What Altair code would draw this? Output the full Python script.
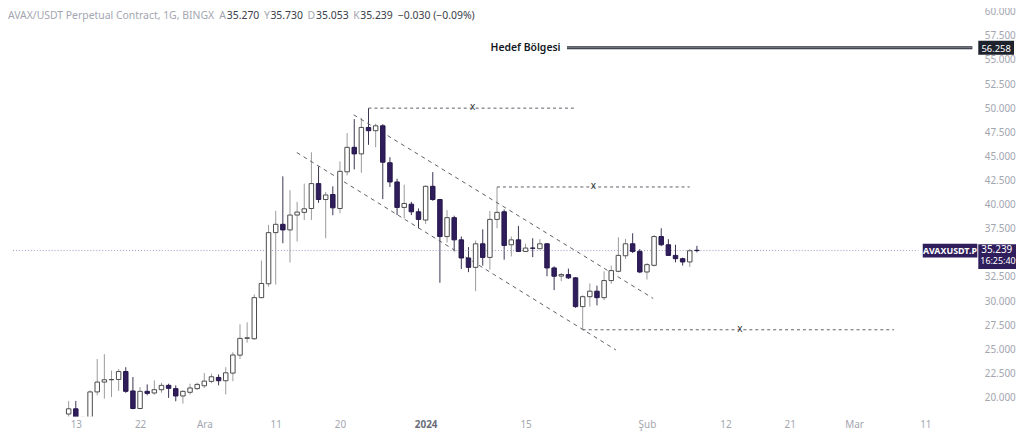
import altair as alt
import pandas as pd

# ---------------- data ----------------
dates = pd.date_range("2023-11-12", "2024-02-08", freq="D").strftime("%Y-%m-%d").tolist()

opens = [18.30, 18.84, 17.95, 17.30, 20.59, 21.61, 21.85, 21.88, 22.70, 20.69,
         18.87, 20.65, 20.48, 20.82, 21.27, 20.93, 20.17, 20.55, 20.93, 21.23,
         21.68, 22.09, 21.75, 22.54, 24.40, 26.14, 26.10, 30.36, 31.80, 37.10,
         37.96, 37.38, 38.92, 39.20, 39.60, 42.18, 40.53, 41.05, 39.60, 43.40,
         45.94, 45.26, 48.00, 47.66, 48.17, 44.34, 42.35, 39.71, 40.05, 39.26,
         38.40, 41.90, 40.53, 36.69, 38.65, 36.35, 34.47, 33.50, 35.94, 34.53,
         38.47, 39.26, 35.84, 36.35, 35.15, 35.50, 35.43, 35.94, 33.44, 32.60,
         32.75, 32.41, 29.43, 30.46, 31.03, 30.36, 32.13, 33.09, 34.70, 35.94,
         35.15, 33.02, 33.71, 36.69, 35.84, 34.74, 34.40, 34.06, 35.270]
highs = [19.66, 19.66, 17.98, 20.75, 24.00, 24.50, 22.80, 22.95, 23.15, 22.13,
         21.10, 21.37, 21.78, 21.54, 21.44, 21.27, 20.75, 21.44, 21.54, 22.54,
         22.47, 22.40, 23.15, 24.70, 27.60, 27.80, 30.70, 34.20, 37.90, 39.36,
         42.93, 41.50, 40.29, 42.18, 45.43, 43.96, 41.32, 41.90, 44.47, 47.42,
         48.86, 48.97, 50.00, 48.40, 48.34, 44.92, 42.69, 42.07, 40.29, 39.60,
         42.00, 43.37, 40.60, 39.43, 38.85, 36.70, 35.60, 36.28, 37.44, 39.36,
         41.83, 39.50, 36.69, 37.79, 35.95, 36.52, 36.42, 36.00, 33.60, 32.92,
         33.37, 32.50, 30.60, 31.83, 31.60, 33.09, 33.67, 36.62, 36.45, 37.03,
         35.40, 33.95, 36.86, 37.55, 36.42, 35.84, 34.50, 35.40, 35.730]
lows = [17.90, 17.60, 16.90, 17.10, 20.24, 19.90, 20.07, 20.70, 20.50, 18.80,
        18.80, 20.24, 20.30, 20.51, 19.97, 19.62, 19.38, 20.31, 20.80, 20.99,
        21.50, 21.27, 20.34, 21.70, 24.00, 25.70, 26.00, 30.30, 31.50, 31.72,
        36.00, 34.00, 36.18, 38.40, 38.40, 40.19, 36.52, 38.90, 39.10, 43.03,
        43.65, 43.30, 46.20, 45.94, 40.57, 41.83, 38.92, 38.58, 38.92, 37.55,
        38.00, 40.40, 31.90, 36.07, 35.15, 33.33, 33.00, 31.03, 33.68, 33.26,
        37.55, 34.29, 34.63, 35.10, 35.10, 34.56, 35.40, 32.58, 31.14, 32.07,
        32.30, 29.30, 27.03, 29.43, 29.56, 30.10, 31.80, 33.00, 34.36, 34.98,
        32.90, 32.24, 33.60, 35.70, 34.70, 34.02, 33.68, 33.54, 35.053]
closes = [18.84, 17.95, 17.30, 20.59, 21.61, 21.85, 21.88, 22.70, 20.65, 18.87,
          20.65, 20.44, 20.82, 21.27, 20.96, 20.17, 20.65, 21.00, 21.37, 21.71,
          22.16, 21.75, 22.57, 24.42, 26.14, 26.20, 30.36, 31.83, 37.10, 37.96,
          37.38, 38.92, 39.23, 39.57, 42.18, 40.53, 41.00, 39.67, 43.45, 45.94,
          45.26, 48.00, 47.66, 48.17, 44.40, 42.35, 39.71, 40.12, 39.26, 38.47,
          41.90, 40.53, 36.69, 38.65, 36.35, 34.47, 33.50, 35.94, 34.53, 38.47,
          39.20, 35.77, 36.35, 35.15, 35.50, 35.48, 35.94, 33.44, 32.58, 32.75,
          32.41, 29.43, 30.46, 31.03, 30.36, 32.13, 33.16, 34.74, 35.94, 35.15,
          33.02, 33.78, 36.69, 35.84, 34.74, 34.40, 34.06, 35.22, 35.239]

start_date = "2023-11-13"
tick_days = [0, 9, 18, 28, 37, 49, 63, 80, 91, 100, 109, 119]
tick_labels = ["13", "22", "Ara", "11", "20", "2024", "15", "Şub", "12", "21", "Mar", "11"]
# 35.000 is hidden behind the last-price label in the reference
price_ticks = [20.0, 22.5, 25.0, 27.5, 30.0, 32.5, 37.5, 40.0, 42.5, 45.0, 47.5,
               50.0, 52.5, 55.0, 57.5, 60.0]

# channel (dashed diagonal) lines
trend_ids = ["upper", "upper", "lower", "lower"]
trend_days = [38.93, 80.88, 30.95, 75.65]
trend_vals = [49.31, 30.28, 45.40, 24.94]

# dashed horizontal levels with "x" markers
level_vals = [50.00, 41.83, 27.03]
level_from = [41, 59, 71]
level_to = [69.9, 86.0, 114.6]
level_mark = [55.6, 72.5, 93.0]

target_val = 56.258
target_from = 68.8
target_text_day = 67.9
last_price = 35.239
price_line_to = 118.0
timer = "16:25:40"

# header texts
hdr_text = ["AVAX/USDT Perpetual Contract, 1G, BINGX", "A", "35.270", "Y", "35.730",
            "D", "35.053", "K", "35.239", "−0.030 (−0.09%)"]
hdr_kind = ["label", "label", "value", "label", "value", "label", "value", "label",
            "value", "value"]

X_MIN, X_MAX = -8.803, 125.58
Y_MIN, Y_MAX = 18.047, 60.206
W, H = 977, 410
FONT = "Noto Sans"
UP_FILL, UP_LINE, UP_WICK = "#ffffff", "#4a4a4a", "#9a9a9a"
DN_FILL, DN_LINE, DN_WICK = "#2f1d5c", "#24164a", "#3b3350"
PURPLE = "#2f1d5c"
GREY_TXT = "#a3a6af"
DARK_TXT = "#3a3d48"

# ---------------- frames ----------------
df = pd.DataFrame({"date": pd.to_datetime(dates), "open": opens, "high": highs,
                   "low": lows, "close": closes})
df["d"] = (df["date"] - pd.Timestamp(start_date)).dt.days

trend = pd.DataFrame({"id": trend_ids, "d": trend_days, "v": trend_vals})
levels = pd.DataFrame({"v": level_vals, "d1": level_from, "d2": level_to, "dm": level_mark})
target = pd.DataFrame({"v": [target_val], "d1": [target_from], "d2": [X_MAX],
                       "dt": [target_text_day], "lab": ["Hedef Bölgesi"],
                       "txt": [f"{target_val:.3f}"]})
price = pd.DataFrame({"v": [last_price], "d1": [X_MIN], "d2": [price_line_to],
                      "txt": [f"{last_price:.3f}"], "timer": [timer]})

# header layout: x positions from estimated text widths (Noto Sans, 10.5px)
hdr_px = [0, 213, 220.5, 258, 264.5, 302, 310.5, 348, 355, 393]
hdr = pd.DataFrame({"t": hdr_text, "px": hdr_px,
                    "c": [GREY_TXT if k == "label" else DARK_TXT for k in hdr_kind]})

xs = alt.Scale(domain=[X_MIN, X_MAX], nice=False, zero=False)
ys = alt.Scale(domain=[Y_MIN, Y_MAX], nice=False, zero=False)

label_expr = ("[" + ",".join(f"'{t}'" for t in tick_labels) + "][indexof(["
              + ",".join(str(t) for t in tick_days) + "], datum.value)]")

xaxis = alt.Axis(values=tick_days, labelExpr=label_expr, title=None, grid=False,
                 ticks=False, domain=False, labelPadding=3, labelFont=FONT,
                 labelFontSize=10, labelOverlap=False,
                 labelColor={"condition": {"test": "datum.value == 49", "value": "#6a6d78"},
                             "value": GREY_TXT},
                 labelFontWeight={"condition": {"test": "datum.value == 49", "value": "bold"},
                                  "value": "normal"})
yaxis = alt.Axis(values=price_ticks, format=".3f", orient="right", title=None, grid=False,
                 ticks=False, domain=False, labelPadding=7, labelFont=FONT,
                 labelFontSize=10, labelColor=GREY_TXT, labelOverlap=False)


def X(field):
    return alt.X(field, scale=xs, axis=xaxis)


def Y(field):
    return alt.Y(field, scale=ys, axis=yaxis)


up = "datum.close >= datum.open"
base = alt.Chart(df)

wicks = base.mark_rule(strokeWidth=1, clip=True).encode(
    x=X("d:Q"), y=Y("low:Q"), y2="high:Q",
    color=alt.condition(up, alt.value(UP_WICK), alt.value(DN_WICK)))

bodies = base.mark_bar(size=4.5, strokeWidth=1, clip=True).encode(
    x=X("d:Q"), y=Y("open:Q"), y2="close:Q",
    fill=alt.condition(up, alt.value(UP_FILL), alt.value(DN_FILL)),
    stroke=alt.condition(up, alt.value(UP_LINE), alt.value(DN_LINE)))

trend_lines = alt.Chart(trend).mark_line(strokeDash=[4, 4], strokeWidth=1, color="#5d5f68").encode(
    x=X("d:Q"), y=Y("v:Q"), detail="id:N")

level_lines = alt.Chart(levels).mark_rule(strokeDash=[3, 3], strokeWidth=1, color="#5d5f68").encode(
    x=X("d1:Q"), x2="d2:Q", y=Y("v:Q"))
level_x = alt.Chart(levels).mark_text(text="x", font=FONT, fontSize=10, color="#333",
                                      baseline="middle", dy=-1).encode(
    x=X("dm:Q"), y=Y("v:Q"))

target_outer = alt.Chart(target).mark_rule(strokeWidth=3, color="#2a2e39").encode(
    x=X("d1:Q"), x2="d2:Q", y=Y("v:Q"))
target_inner = alt.Chart(target).mark_rule(strokeWidth=1, color="#8a8d96").encode(
    x=X("d1:Q"), x2="d2:Q", y=Y("v:Q"))
target_text = alt.Chart(target).mark_text(align="right", baseline="middle", font=FONT,
                                          fontSize=10.5, fontWeight=600, color="#131722").encode(
    x=X("dt:Q"), y=Y("v:Q"), text="lab:N")
target_box = alt.Chart(target).mark_rule(strokeWidth=14, color="#1e222d", strokeCap="butt").encode(
    x=alt.value(978), x2=alt.value(1014), y=Y("v:Q"))
target_box_text = alt.Chart(target).mark_text(align="center", baseline="middle", font=FONT,
                                              fontSize=9.5, color="white", dy=1).encode(
    x=alt.value(996), y=Y("v:Q"), text="txt:N")

price_line = alt.Chart(price).mark_rule(strokeDash=[1, 2], strokeWidth=1, color="#9d95c0").encode(
    x=X("d1:Q"), x2="d2:Q", y=Y("v:Q"))
sym_box = alt.Chart(price).mark_rule(strokeWidth=14, color=PURPLE, strokeCap="butt").encode(
    x=alt.value(922), x2=alt.value(977), y=Y("v:Q"))
sym_text = alt.Chart(price).mark_text(text="AVAXUSDT.P", align="center", baseline="middle",
                                      font=FONT, fontSize=9, fontWeight="bold", color="white").encode(
    x=alt.value(949.5), y=Y("v:Q"))
price_box = alt.Chart(price).mark_rule(strokeWidth=25, color=PURPLE, strokeCap="butt",
                                       yOffset=6).encode(
    x=alt.value(978), x2=alt.value(1016), y=Y("v:Q"))
price_text = alt.Chart(price).mark_text(align="left", baseline="middle", font=FONT,
                                        fontSize=10, color="white", dy=-1).encode(
    x=alt.value(981), y=Y("v:Q"), text="txt:N")
timer_text = alt.Chart(price).mark_text(align="left", baseline="middle",
                                        font=FONT, fontSize=9, color="white", dy=11).encode(
    x=alt.value(980), y=Y("v:Q"), text="timer:N")

header = alt.Chart(hdr).mark_text(align="left", baseline="top", font=FONT,
                                  fontSize=10.5).encode(
    x=alt.X("px:Q", scale=None), y=alt.value(1), text="t:N",
    color=alt.Color("c:N", scale=None))

chart = alt.layer(
    wicks, price_line, trend_lines, level_lines, level_x, bodies,
    target_outer, target_inner, target_text, target_box, target_box_text,
    sym_box, sym_text, price_box, price_text, timer_text, header
).properties(
    width=W, height=H,
    padding={"left": 0, "top": 0, "right": 39, "bottom": 17},
    autosize=alt.AutoSizeParams(type="none"),
    background="white",
).configure_view(stroke=None).configure_axis(labelOverlap=False)

chart.save("out.html", embed_options={"renderer": "svg", "actions": False})
